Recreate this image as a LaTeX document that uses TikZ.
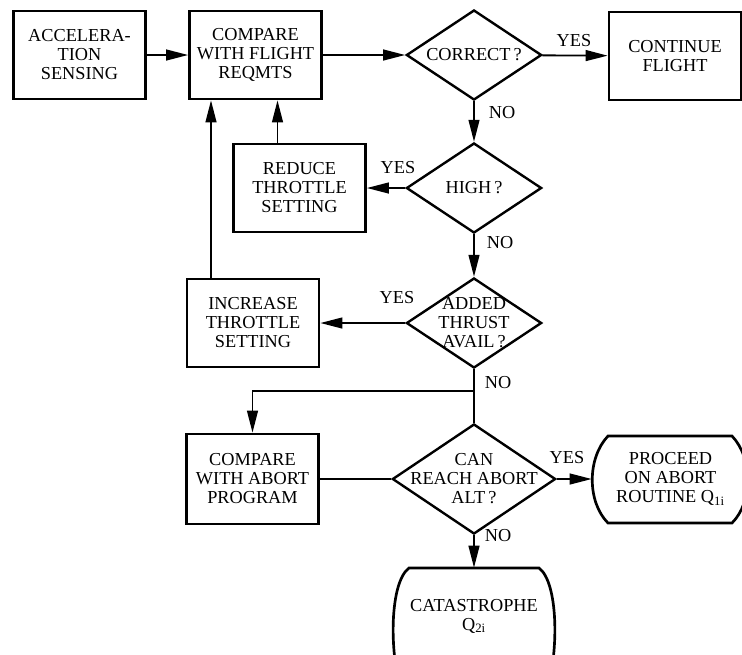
\documentclass[tikz,border=0pt]{standalone}
\usepackage{fontspec}
\setmainfont{Liberation Serif}
\usepackage{tikz}
\usetikzlibrary{shapes.geometric,arrows.meta,calc}

\begin{document}
\begin{tikzpicture}[x=0.025cm,y=-0.025cm,
  font=\fontsize{13}{13.5}\selectfont,
  box/.style={draw,line width=1.9pt,minimum width=3.3cm,minimum height=2.2cm,
    inner sep=0pt,align=center},
  dia/.style={diamond,draw,line width=1.7pt,minimum width=3.38cm,
    minimum height=2.25cm,inner sep=0pt},
  term/.style={minimum width=3.925cm,minimum height=2.2cm,inner sep=0pt,align=center},
  arr/.style={line width=1.3pt,-{Triangle[length=0.55cm,width=0.27cm]}},
  link/.style={line width=1.3pt},
  lbl/.style={inner sep=1pt}]
  \useasboundingbox (0,0) rectangle (742,654);
  \clip (0,0) rectangle (742,654);
  % top row
  \node[box] (accel) at (79.5,55) {ACCELERA-\\TION\\SENSING};
  \node[box] (cmpflt) at (255.5,55) {COMPARE\\WITH FLIGHT\\REQMTS};
  \node[dia,label={[align=center]center:CORRECT\,?}] (correct) at (474,55) {};
  \node[box] (cont) at (675,56) {CONTINUE\\FLIGHT};
  % throttle loop
  \node[dia,label={[align=center]center:HIGH\,?}] (high) at (474,188) {};
  \node[box] (reduce) at (299.5,188) {REDUCE\\THROTTLE\\SETTING};
  \node[dia,label={[align=center]center:ADDED\\THRUST\\AVAIL\,?}] (added) at (474,323) {};
  \node[box] (increase) at (253,323) {INCREASE\\THROTTLE\\SETTING};
  % abort branch
  \node[box,minimum height=2.25cm] (cmpab) at (252.5,479) {COMPARE\\WITH ABORT\\PROGRAM};
  \node[dia,minimum width=4.08cm,minimum height=2.75cm,
    label={[align=center]center:CAN\\REACH ABORT\\ALT\,?}] (can) at (474,479) {};
  \node[term] (proceed) at (670.5,479) {PROCEED\\ON ABORT\\ROUTINE Q$_{\mathrm{1i}}$};
  \node[term,minimum width=4cm,minimum height=2.4cm] (catas) at (474,616)
    {CATASTROPHE\\Q$_{\mathrm{2i}}$};
  % terminal outlines
  \draw[line width=1.9pt] (670,436) -- (732,436)
    .. controls (753,458) and (753,502) .. (732,523) -- (608,523)
    .. controls (587,502) and (587,458) .. (608,436) -- cycle;
  \draw[line width=1.9pt] (401,690) .. controls (389,650) and (390,582) .. (409,568)
    -- (539,568) .. controls (558,582) and (559,650) .. (547,690);
  % connectors
  \draw[arr] (accel) -- (cmpflt);
  \draw[arr] (cmpflt) -- (correct);
  \draw[arr] (correct) -- (cont);
  \draw[arr] (correct) -- (high);
  \draw[arr] (high) -- (reduce);
  \draw[arr] (high) -- (added);
  \draw[arr] (added) -- (increase);
  \coordinate (rt) at ($(reduce.north)+(-22,0)$);
  \draw[arr] (rt) -- (rt |- cmpflt.south);
  \coordinate (it) at ($(increase.north)+(-42,0)$);
  \draw[arr] (it) -- (it |- cmpflt.south);
  \draw[link] (added) -- (can);
  \coordinate (br) at ($(added.south)+(0,22)$);
  \draw[arr] (br) -| (cmpab);
  \draw[link] (cmpab) -- (can);
  \draw[arr] (can) -- (proceed);
  \draw[arr] (can) -- (catas);
  % labels
  \node[lbl] (yes1) at (574,41) {YES};
  \node[lbl] (no1) at (502,113) {NO};
  \node[lbl] (yes2) at (398,168) {YES};
  \node[lbl] (no2) at (500,243) {NO};
  \node[lbl] (yes3) at (397,298) {YES};
  \node[lbl] (no3) at (498,383) {NO};
  \node[lbl] (yes4) at (567,458) {YES};
  \node[lbl] (no4) at (498,536) {NO};
\end{tikzpicture}
\end{document}
